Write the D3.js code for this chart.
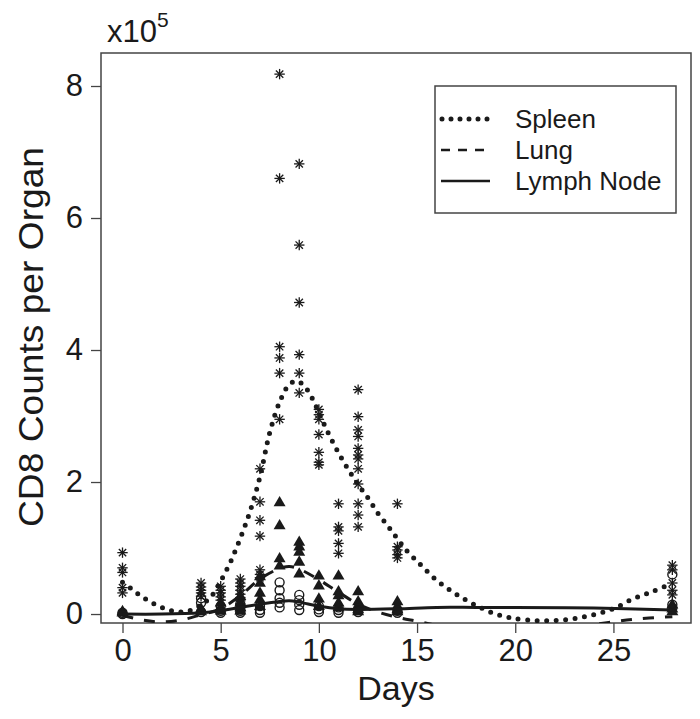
<!DOCTYPE html>
<html><head><meta charset="utf-8">
<script src="https://cdnjs.cloudflare.com/ajax/libs/d3/7.8.5/d3.min.js"></script>
<style>
body{margin:0;background:#fff;}
text{font-family:"Liberation Sans",Arial,sans-serif;fill:#1a1a1a;}
</style></head>
<body><svg id="c" width="700" height="719"></svg>
<script>
// ---- data (values in units of 1e5 cells) ----
const days = [0,4,5,6,7,8,9,10,11,12,14,28];
const spleenPts = [
  [0.93,0.7,0.63,0.4,0.32],
  [0.47,0.41,0.36,0.32,0.27],
  [0.42,0.36,0.32,0.26,0.21],
  [0.53,0.47,0.42,0.36,0.3,0.25,0.2,0.15],
  [2.2,1.7,1.42,1.18,0.67,0.6,0.55],
  [8.18,6.6,4.05,3.88,3.65,2.95],
  [6.82,5.59,4.72,3.93,3.65,3.35],
  [3.1,3.02,2.95,2.72,2.45,2.3,2.26],
  [1.67,1.32,1.26,1.07,0.92],
  [3.4,2.99,2.79,2.69,2.51,2.41,2.35,2.2,1.97,1.67,1.5,1.32],
  [1.67,1.02,0.97,0.9,0.85],
  [0.74,0.67,0.47,0.36,0.29]
];
const lungPts = [
  [0.02,0.0],
  [0.06,0.02],
  [0.15,0.08,0.03],
  [0.25,0.15,0.08,0.03],
  [0.55,0.45,0.3,0.2,0.1],
  [1.67,1.32,0.82,0.71],
  [1.07,1.0,0.92,0.77,0.59],
  [0.56,0.41,0.21,0.1],
  [0.56,0.32,0.26,0.15,0.08],
  [0.32,0.17,0.1,0.05,0.02],
  [0.17,0.1,0.05,0.02],
  [0.12,0.06,0.02]
];
const lymphPts = [
  [0.02,0.0],
  [0.24,0.17,0.03],
  [0.12,0.05,0.02],
  [0.15,0.1,0.05,0.02],
  [0.12,0.06,0.02],
  [0.48,0.36,0.24,0.17,0.1],
  [0.29,0.21,0.14,0.06],
  [0.12,0.07,0.03],
  [0.1,0.06,0.02],
  [0.08,0.03],
  [0.05,0.02],
  [0.6,0.14,0.09]
];
// smooth fitted curves: [day, value]
const spleenFit = [[0,0.48],[0.5,0.37],[1,0.26],[1.5,0.17],[2,0.1],[2.5,0.05],[3,0.03],[3.5,0.06],[4,0.14],[4.5,0.26],[5,0.5],[5.5,0.79],[6,1.15],[6.5,1.56],[7,2.08],[7.5,2.75],[8,3.21],[8.5,3.48],[8.9,3.53],[9.4,3.4],[9.85,3.15],[10.4,2.79],[11,2.44],[11.5,2.19],[12,1.96],[12.5,1.76],[13,1.53],[13.5,1.34],[14,1.14],[14.5,0.95],[15,0.8],[15.5,0.65],[16,0.51],[16.5,0.4],[17,0.3],[17.5,0.21],[18,0.13],[18.5,0.06],[19,0.0],[19.5,-0.04],[20,-0.07],[21,-0.1],[22,-0.1],[23,-0.07],[24,-0.01],[25,0.08],[26,0.23],[27,0.34],[28,0.47]];
const lungFit = [[0,-0.02],[1,-0.09],[2,-0.12],[3,-0.09],[4,-0.01],[5,0.08],[6,0.28],[7,0.53],[8,0.69],[8.5,0.72],[9,0.68],[10,0.52],[11,0.33],[12,0.15],[13,0.03],[14,-0.05],[15,-0.11],[16,-0.17],[18,-0.24],[20,-0.27],[22,-0.24],[24,-0.16],[26,-0.08],[28,-0.04]];
const lymphFit = [[0,0.0],[2,0.0],[4,0.02],[5,0.05],[6,0.1],[7,0.15],[8,0.19],[8.5,0.2],[9,0.18],[10,0.12],[11,0.08],[12,0.07],[14,0.08],[16,0.1],[18,0.1],[20,0.1],[24,0.09],[28,0.06]];
const xTicks = [0,5,10,15,20,25];
const yTicks = [0,2,4,6,8];
const legendLabels = ["Spleen","Lung","Lymph Node"];

// ---- drawing ----
const svg = d3.select("#c");
const L=101,R=691,T=53,B=623;
const x = d3.scaleLinear().domain([-1.095,28.95]).range([L,R]);
const y = d3.scaleLinear().domain([-0.136,8.5]).range([B,T]);
const ink = "#1a1a1a";

svg.append("defs").append("clipPath").attr("id","clip")
  .append("rect").attr("x",L).attr("y",T).attr("width",R-L).attr("height",B-T);

// axes
const ya = svg.append("g").attr("transform",`translate(${L},0)`)
  .call(d3.axisLeft(y).tickValues(yTicks).tickSize(10).tickPadding(8).tickFormat(d3.format("d")));
const xa = svg.append("g").attr("transform",`translate(0,${B})`)
  .call(d3.axisBottom(x).tickValues(xTicks).tickSize(10).tickPadding(6).tickFormat(d3.format("d")));
[ya,xa].forEach(g=>{
  g.select(".domain").remove();
  g.selectAll(".tick line").attr("stroke","#444").attr("stroke-width",1.3);
  g.selectAll(".tick text").attr("font-size",31).attr("fill",ink)
    .style("font-family","'Liberation Sans',Arial,sans-serif");
});

// plot box
svg.append("rect").attr("x",L).attr("y",T).attr("width",R-L).attr("height",B-T)
  .attr("fill","none").attr("stroke","#444").attr("stroke-width",1.5);

const plot = svg.append("g").attr("clip-path","url(#clip)");

// points
function flat(arr){ const out=[]; arr.forEach((vals,i)=>vals.forEach(v=>out.push([days[i],v]))); return out; }
const star = plot.append("g").attr("stroke",ink).attr("stroke-width",1.3);
flat(spleenPts).forEach(([d,v])=>{
  const cx=x(d), cy=y(v), r=5.2;
  for(let k=0;k<4;k++){
    const a=k*Math.PI/4;
    star.append("line").attr("x1",cx-r*Math.cos(a)).attr("y1",cy-r*Math.sin(a))
      .attr("x2",cx+r*Math.cos(a)).attr("y2",cy+r*Math.sin(a));
  }
});
plot.append("g").selectAll("path").data(flat(lungPts)).join("path")
  .attr("d",d3.symbol(d3.symbolTriangle,62))
  .attr("transform",d=>`translate(${x(d[0])},${y(d[1])-1})`)
  .attr("fill",ink);
plot.append("g").selectAll("circle").data(flat(lymphPts)).join("circle")
  .attr("cx",d=>x(d[0])).attr("cy",d=>y(d[1])).attr("r",4.5)
  .attr("fill","none").attr("stroke",ink).attr("stroke-width",1.4);

// fitted curves
const line = d3.line().x(d=>x(d[0])).y(d=>y(d[1])).curve(d3.curveCatmullRom);
plot.append("path").attr("d",line(spleenFit)).attr("fill","none").attr("stroke",ink)
  .attr("stroke-width",5).attr("stroke-linecap","round").attr("stroke-dasharray","0 9.5");
plot.append("path").attr("d",line(lungFit)).attr("fill","none").attr("stroke",ink)
  .attr("stroke-width",3).attr("stroke-dasharray","11 11");
plot.append("path").attr("d",line(lymphFit)).attr("fill","none").attr("stroke",ink)
  .attr("stroke-width",3);

// axis titles
svg.append("text").attr("x",(L+R)/2).attr("y",700).attr("text-anchor","middle")
  .attr("font-size",34).text("Days");
svg.append("text").attr("transform",`translate(43,337) rotate(-90)`)
  .attr("text-anchor","middle").attr("font-size",35)
  .attr("textLength",380).attr("lengthAdjust","spacingAndGlyphs")
  .text("CD8 Counts per Organ");
const ex = svg.append("text").attr("x",107).attr("y",42).attr("font-size",31);
ex.append("tspan").text("x10");
ex.append("tspan").attr("font-size",21).attr("dy",-15).text("5");

// legend
const lg = svg.append("g");
lg.append("rect").attr("x",435).attr("y",86).attr("width",241).attr("height",127)
  .attr("fill","#fff").attr("stroke","#444").attr("stroke-width",1.5);
const styles = [
  {w:5,dash:"0 9",cap:"round"},
  {w:2.5,dash:"9 8",cap:"butt"},
  {w:2.5,dash:null,cap:"butt"}
];
legendLabels.forEach((lab,i)=>{
  const ly = 119 + i*31;
  const s = styles[i];
  const ln = lg.append("line").attr("x1",i===0?442:441).attr("x2",i===0?488:490)
    .attr("y1",ly).attr("y2",ly).attr("stroke",ink).attr("stroke-width",s.w)
    .attr("stroke-linecap",s.cap);
  if(s.dash) ln.attr("stroke-dasharray",s.dash);
  lg.append("text").attr("x",515).attr("y",ly+9).attr("font-size",26).text(lab);
});
</script></body></html>
